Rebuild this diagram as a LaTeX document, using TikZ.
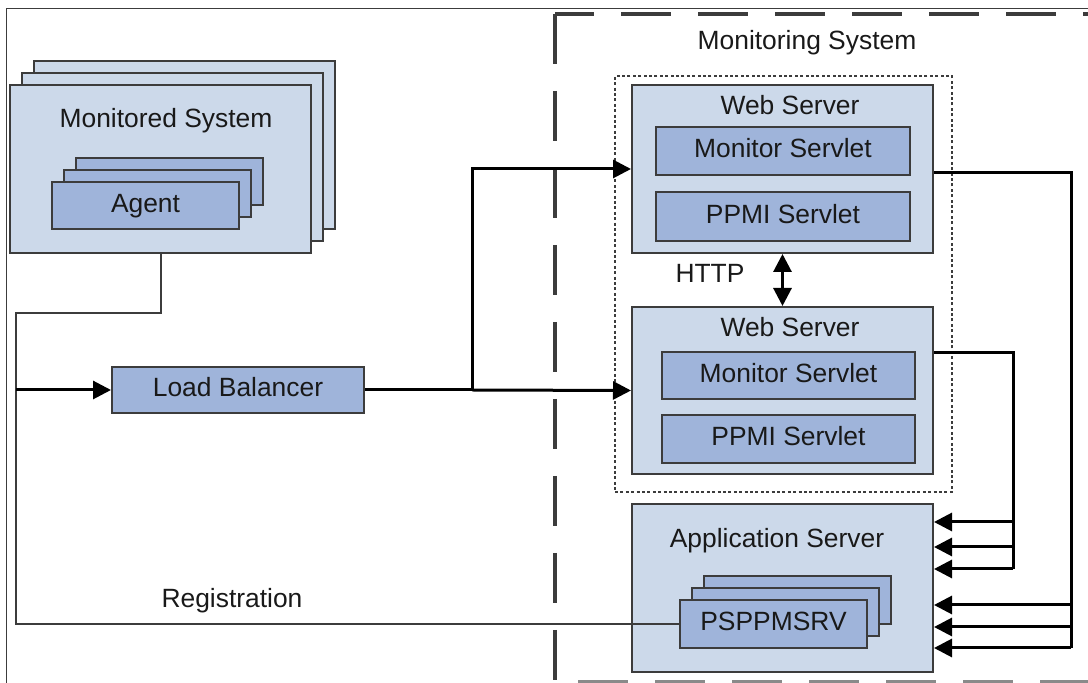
\documentclass[tikz,border=0pt]{standalone}
\usepackage{fontspec}
\setmainfont{Liberation Sans}
\usetikzlibrary{arrows.meta}
\definecolor{outerfill}{HTML}{CCD9EA}
\definecolor{innerfill}{HTML}{9FB4DA}
\definecolor{boxline}{HTML}{3C3C3C}

\begin{document}
\begin{tikzpicture}[x=0.5pt, y=-0.5pt,
    outerbox/.style={draw=boxline, line width=1pt, fill=outerfill, inner sep=0pt},
    innerbox/.style={draw=boxline, line width=1pt, fill=innerfill, inner sep=0pt,
        font=\fontsize{13.2}{16}\selectfont, text=black!90, text height=9.5pt, text depth=2.5pt},
    txt/.style={font=\fontsize{13.2}{16}\selectfont, text=black!90, inner sep=0pt, anchor=base},
    wire/.style={line width=1.5pt, black},
    feed/.style={line width=1pt, boxline},
    arr/.style={-{Triangle[length=9pt,width=9pt]}},
    arrboth/.style={{Triangle[length=9pt,width=9pt]}-{Triangle[length=9pt,width=9pt]}}]
    \useasboundingbox (0,0) rectangle (1088,683);
    % page frame
    \draw[line width=0.5pt, boxline] (6,683) -- (6,9) -- (1088,9);
    % monitoring system boundary
    \draw[line width=1.8pt, boxline, dash pattern=on 25pt off 13.5pt] (555,14) -- (555,683);
    \draw[line width=1.8pt, boxline, dash pattern=on 25pt off 13.5pt, dash phase=5.5pt] (555,14) -- (1088,14);
    \draw[line width=1.8pt, boxline!60, dash pattern=on 25pt off 13.5pt, dash phase=27pt] (555,682) -- (1088,682);
    \node[txt] (msyslbl) at (807,50) {Monitoring System};
    % web server group
    \node[draw=boxline, line width=1pt, dash pattern=on 1.5pt off 1.2pt, inner sep=0pt,
        minimum width=168.5pt, minimum height=208pt] (wsgroup) at (783.5,284) {};

    % monitored system
    \foreach \d in {24,12}
        \draw[outerbox] (10+\d,85-\d) rectangle (311+\d,253-\d);
    \node[outerbox, minimum width=150.5pt, minimum height=84pt] (mon) at (160.5,169) {};
    \node[txt] (monlbl) at (166,128) {Monitored System};
    \foreach \d in {24,12}
        \draw[innerbox] (52+\d,182-\d) rectangle (239+\d,229-\d);
    \node[innerbox, minimum width=93.5pt, minimum height=23.5pt] (agent) at (145.5,205.5) {Agent};

    % load balancer
    \node[innerbox, minimum width=126pt, minimum height=23pt] (lb) at (238,390) {Load Balancer};

    % web servers
    \node[outerbox, minimum width=150.5pt, minimum height=84pt] (ws1) at (782.5,169) {};
    \node[txt] (ws1lbl) at (790,115) {Web Server};
    \node[innerbox, minimum width=127pt, minimum height=24pt] (ms1) at (783,151) {Monitor Servlet};
    \node[innerbox, minimum width=127pt, minimum height=24.5pt] (pp1) at (783,216.5) {PPMI Servlet};
    \node[outerbox, minimum width=150.5pt, minimum height=83.5pt] (ws2) at (782.5,390.5) {};
    \node[txt] (ws2lbl) at (790,337) {Web Server};
    \node[innerbox, minimum width=126.5pt, minimum height=23.5pt] (ms2) at (788.5,375.5) {Monitor Servlet};
    \node[innerbox, minimum width=126.5pt, minimum height=24pt] (pp2) at (788.5,439) {PPMI Servlet};
    \node[txt] (httplbl) at (710,283) {HTTP};

    % application server
    \node[outerbox, minimum width=150.5pt, minimum height=84pt] (app) at (782.5,588) {};
    \node[txt] (applbl) at (777,548) {Application Server};
    \foreach \d in {24,12}
        \draw[innerbox] (680+\d,600-\d) rectangle (867+\d,648-\d);
    \node[innerbox, minimum width=93.5pt, minimum height=24pt] (psp) at (773.5,624) {PSPPMSRV};

    % connectors
    \coordinate (busTop) at (16,313);
    \coordinate (busIn) at (16,390);
    \coordinate (split) at (472,390);
    \coordinate (railA) at (1013,353);
    \coordinate (railB) at (1071,173);
    \draw[feed] (mon.south) |- (busTop) -- (busTop |- psp.west) -- (psp.west);
    \node[txt] (reglbl) at (232,608) {Registration};
    \draw[wire, arr] (busIn) -- (lb.west);
    \draw[wire] (lb.east) -- (split);
    \draw[wire, arr] (split) |- (ws1.west);
    \draw[wire, arr] (split) -- (ws2.west);
    \draw[wire, arrboth] (ws1.south) -- (ws2.north);
    \draw[wire] (ws1.east |- railB) -- (railB) -- (railB |- 0,648);
    \foreach \y in {605,627,648}
        \draw[wire, arr] (railB |- 0,\y) -- (app.east |- 0,\y);
    \draw[wire] (ws2.east |- railA) -- (railA) -- (railA |- 0,569);
    \foreach \y in {522,547,569}
        \draw[wire, arr] (railA |- 0,\y) -- (app.east |- 0,\y);
\end{tikzpicture}
\end{document}
